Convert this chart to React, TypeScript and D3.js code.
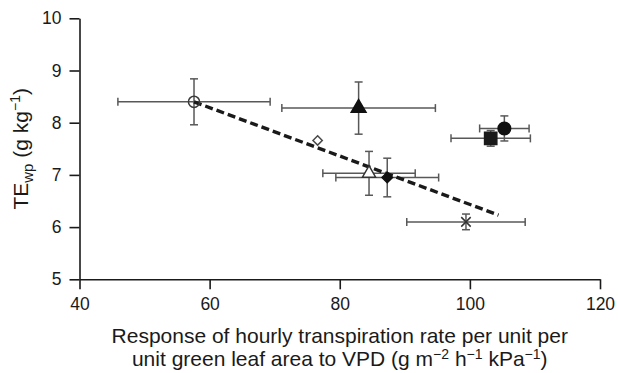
import * as d3 from 'd3';
import React, { useEffect, useRef } from 'react';

// one entry per treatment
const markers = ['openCircle', 'filledTriangle', 'openDiamond', 'openTriangle', 'filledDiamond', 'filledSquare', 'filledCircle', 'cross'];
const xValues = [57.6, 82.9, 76.6, 84.5, 87.3, 103.2, 105.3, 99.4];
const yValues = [8.40, 8.28, 7.66, 7.03, 6.95, 7.70, 7.89, 6.10];
const xErrors = [11.7, 11.8, 0, 7.1, 7.9, 6.1, 3.8, 9.1];
const yErrors = [0.44, 0.5, 0, 0.42, 0.37, 0.15, 0.24, 0.15];

// fitted line end points
const trendX = [57.6, 104.4];
const trendY = [8.40, 6.23];

const xTicks = [40, 60, 80, 100, 120];
const yTicks = [5, 6, 7, 8, 9, 10];

const W = 618;
const H = 373;
const FONT = "'Liberation Sans', Arial, Helvetica, sans-serif";

const App = () => {
    const ref = useRef(null);

    useEffect(() => {
        const svg = d3.select(ref.current);
        svg.selectAll("*").remove();

        const x = d3.scaleLinear().domain([40, 120]).range([79.5, 600]);
        const y = d3.scaleLinear().domain([5, 10]).range([279.3, 18.3]);

        const data = markers.map((m, i) => ({
            marker: m, x: xValues[i], y: yValues[i], ex: xErrors[i], ey: yErrors[i]
        }));

        // axes
        const xAxis = svg.append("g")
            .attr("transform", `translate(0,${y(5)})`)
            .call(d3.axisBottom(x).tickValues(xTicks).tickFormat(d3.format("d")).tickSize(10).tickSizeOuter(0).tickPadding(8));
        const yAxis = svg.append("g")
            .attr("transform", `translate(${x(40)},0)`)
            .call(d3.axisLeft(y).tickValues(yTicks).tickFormat(d3.format("d")).tickSize(10).tickSizeOuter(0).tickPadding(8));

        [xAxis, yAxis].forEach(a => {
            a.selectAll("path, line").attr("stroke", "#1a1a1a").attr("stroke-width", 1.6);
            a.selectAll("text").attr("font-family", FONT).attr("font-size", 17.5).attr("fill", "#1a1a1a");
        });

        // error bars
        const eb = svg.append("g").attr("stroke", "#585858").attr("stroke-width", 1.5).attr("fill", "none");
        const cap = 4;
        data.forEach(d => {
            if (d.ex > 0) {
                const x0 = x(d.x - d.ex), x1 = x(d.x + d.ex), yy = y(d.y);
                eb.append("line").attr("x1", x0).attr("x2", x1).attr("y1", yy).attr("y2", yy);
                eb.append("line").attr("x1", x0).attr("x2", x0).attr("y1", yy - cap).attr("y2", yy + cap);
                eb.append("line").attr("x1", x1).attr("x2", x1).attr("y1", yy - cap).attr("y2", yy + cap);
            }
            if (d.ey > 0) {
                const y0 = y(d.y - d.ey), y1 = y(d.y + d.ey), xx = x(d.x);
                eb.append("line").attr("x1", xx).attr("x2", xx).attr("y1", y0).attr("y2", y1);
                eb.append("line").attr("x1", xx - cap).attr("x2", xx + cap).attr("y1", y0).attr("y2", y0);
                eb.append("line").attr("x1", xx - cap).attr("x2", xx + cap).attr("y1", y1).attr("y2", y1);
            }
        });

        // dashed trend line
        svg.append("path")
            .datum(trendX.map((v, i) => [v, trendY[i]]))
            .attr("d", d3.line().x(d => x(d[0])).y(d => y(d[1])))
            .attr("fill", "none")
            .attr("stroke", "#1a1a1a")
            .attr("stroke-width", 3.4)
            .attr("stroke-dasharray", "8,4");

        // markers
        const style = {
            openCircle: { type: d3.symbolCircle, size: 98, fill: "none", stroke: "#3a3a3a" },
            filledTriangle: { type: d3.symbolTriangle, size: 95, fill: "#111", stroke: "#111" },
            openDiamond: { type: d3.symbolDiamond2, size: 55, fill: "#fff", stroke: "#4a4a4a" },
            openTriangle: { type: d3.symbolTriangle, size: 75, fill: "#fff", stroke: "#333" },
            filledDiamond: { type: d3.symbolDiamond2, size: 70, fill: "#111", stroke: "#111" },
            filledSquare: { type: d3.symbolSquare, size: 150, fill: "#1a1a1a", stroke: "#1a1a1a" },
            filledCircle: { type: d3.symbolCircle, size: 125, fill: "#111", stroke: "#111" },
            cross: { type: d3.symbolTimes, size: 60, fill: "none", stroke: "#333" }
        };

        svg.append("g").selectAll("path.pt")
            .data(data)
            .enter().append("path")
            .attr("class", "pt")
            .attr("transform", d => `translate(${x(d.x)},${y(d.y)})`)
            .attr("d", d => d3.symbol().type(style[d.marker].type).size(style[d.marker].size)())
            .attr("fill", d => style[d.marker].fill)
            .attr("stroke", d => style[d.marker].stroke)
            .attr("stroke-width", 1.5);

        // x axis title
        const xt = svg.append("text")
            .attr("font-family", FONT)
            .attr("font-size", 21)
            .attr("fill", "#1a1a1a")
            .attr("text-anchor", "middle");
        const cx = (x(40) + x(120)) / 2;
        xt.append("tspan").attr("x", cx).attr("y", 343)
            .text("Response of hourly transpiration rate per unit per");
        const l2 = xt.append("tspan").attr("x", cx).attr("y", 366);
        l2.append("tspan").text("unit green leaf area to VPD (g m");
        l2.append("tspan").attr("font-size", 14).attr("dy", -7).text("\u22122");
        l2.append("tspan").attr("dy", 7).text(" h");
        l2.append("tspan").attr("font-size", 14).attr("dy", -7).text("\u22121");
        l2.append("tspan").attr("dy", 7).text(" kPa");
        l2.append("tspan").attr("font-size", 14).attr("dy", -7).text("\u22121");
        l2.append("tspan").attr("dy", 7).text(")");

        // y axis title
        const yt = svg.append("text")
            .attr("font-family", FONT)
            .attr("font-size", 21)
            .attr("fill", "#1a1a1a")
            .attr("text-anchor", "middle")
            .attr("transform", `translate(28,${(y(5) + y(10)) / 2}) rotate(-90)`);
        yt.append("tspan").text("TE");
        yt.append("tspan").attr("font-size", 15).attr("dy", 5).text("wp");
        yt.append("tspan").attr("dy", -5).text(" (g kg");
        yt.append("tspan").attr("font-size", 14).attr("dy", -8).text("\u22121");
        yt.append("tspan").attr("dy", 8).text(")");
    }, []);

    return (
        <svg ref={ref} width={W} height={H}
            style={{ position: 'absolute', left: 0, top: 0, background: '#fff' }} />
    );
};

export default App;
